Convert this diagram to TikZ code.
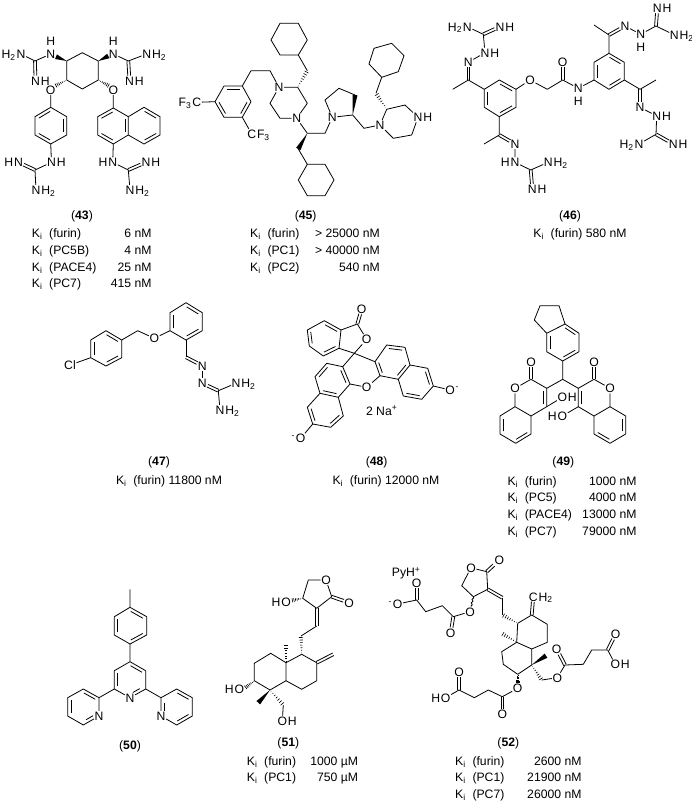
\documentclass[tikz,border=0pt]{standalone}
\usepackage{fontspec}
\setmainfont{Liberation Sans}
\usetikzlibrary{calc,decorations.pathmorphing}
\newcommand{\chemfont}{\fontsize{12.2}{14}\selectfont}
\tikzset{
  bond/.style = {line width=.8pt, line join=round},
  thin bond/.style = {line width=.6pt},
  atom/.style = {inner sep=.5pt, font=\chemfont, text height=8.7pt, text depth=0pt},
  lab/.style = {inner sep=0pt, font=\chemfont, text height=8.7pt, text depth=0pt},
  rlab/.style = {label={[lab]right:#1}},
  llab/.style = {label={[lab]left:#1}},
  ulab/.style = {label={[lab,label distance=3pt]above:#1}},
  dlab/.style = {label={[lab,label distance=3pt]below:#1}},
  captxt/.style = {inner sep=0pt, font=\chemfont, text height=8.7pt, text depth=0pt},
  kil/.style = {captxt, anchor=west},
  kir/.style = {captxt, anchor=east}
}
\newcommand{\pts}[1]{\foreach \n/\x/\y in {#1} {\coordinate (\n) at (\x,\y);}}
\newcommand{\dbb}[2]{\path (#1) -- (#2) coordinate[pos=0] (dbs) coordinate[pos=1] (dbe);
  \draw[bond] ($(dbs)!1.4pt!90:(dbe)$) -- ($(dbe)!1.4pt!-90:(dbs)$);
  \draw[bond] ($(dbs)!1.4pt!-90:(dbe)$) -- ($(dbe)!1.4pt!90:(dbs)$);}
\newcommand{\inn}[3][.14]{\draw[bond] ($(#2)!#1!(#3)!3.2pt!-90:(#3)$) -- ($(#3)!#1!(#2)!3.2pt!90:(#2)$);}
\newcommand{\wdg}[2]{\fill (#1) -- ($(#2)!2.5pt!90:(#1)$) -- ($(#2)!2.5pt!-90:(#1)$) -- cycle;}
\newcommand{\hsh}[2]{\foreach \t in {.08,.22,.36,.5,.64,.78,.92} {
    \pgfmathsetmacro\w{\t*2.3}
    \draw[thin bond] ($(#1)!\t!(#2)!\w pt!90:(#2)$) -- ($(#1)!\t!(#2)!\w pt!-90:(#2)$);}}
\newcommand{\subs}[1]{\textsubscript{#1}}
\newcommand{\sups}[1]{\textsuperscript{#1}}
\newcommand{\Ki}{K\subs{i}\ \ }
\begin{document}
\begin{tikzpicture}[x=1pt,y=-1pt]
  \useasboundingbox (0,0) rectangle (692,805);
  % compound 43
  \pts{a1/66.7/61,a2/82.3/52.7,a3/98.3/61,a4/98.3/80,a5/82.3/89,a6/66.7/80,a7/35/61,a8/128.3/61,%
    a9/50.7/107.3,a10/66.7/116.7,a11/66.7/135,a12/50.7/144,a13/35/135,a14/35/116.7,a15/35/170,%
    a16/113.3/108,a17/128.3/116.7,a18/128.3/135,a19/113.3/144,a20/97.7/135,a21/97.7/116.7,%
    a22/144/107.3,a23/160/116.7,a24/160/135,a25/144/144,a26/128.3/170,%
    a27/56/56.7,a28/108.3/56,a29/55/86,a30/109.3/86}
  \node[atom,ulab=H] (aN1) at (50.7,54) {N};
  \node[atom,ulab=H] (aN2) at (113.3,54) {N};
  \node[atom,llab=H\subs{2}] (aN3) at (21,54) {N};
  \node[atom,rlab=H] (aN4) at (35.5,80.7) {N};
  \node[atom,rlab=H\subs{2}] (aN5) at (146.7,54) {N};
  \node[atom,rlab=H] (aN6) at (129.5,80.7) {N};
  \node[atom] (aO1) at (50.7,90) {O};
  \node[atom] (aO2) at (113.3,90) {O};
  \node[atom,rlab=H] (aN7) at (51.5,162.3) {N};
  \node[atom,llab=H] (aN8) at (18.5,162.3) {N};
  \node[atom,rlab=H\subs{2}] (aN9) at (36,190) {N};
  \node[atom,llab=H] (aN10) at (112.7,162.3) {N};
  \node[atom,rlab=H] (aN11) at (146,162.3) {N};
  \node[atom,rlab=H\subs{2}] (aN12) at (130,190) {N};
  \dbb{a7}{aN4}
  \dbb{a8}{aN6}
  \dbb{a15}{aN8}
  \dbb{a26}{aN11}
  \draw[bond] (a1) -- (a2) -- (a3) -- (a4) -- (a5) -- (a6) -- cycle;
  \draw[bond] (aN3) -- (a7) -- (aN1);
  \draw[bond] (aN2) -- (a8) -- (aN5);
  \draw[bond] (aO1) -- (a9) -- (a10) -- (a11) -- (a12) -- (a13) -- (a14) -- (a9);
  \draw[bond] (a12) -- (aN7) -- (a15) -- (aN9);
  \draw[bond] (aO2) -- (a16) -- (a17) -- (a18) -- (a19) -- (a20) -- (a21) -- (a16);
  \draw[bond] (a17) -- (a22) -- (a23) -- (a24) -- (a25) -- (a18);
  \draw[bond] (a19) -- (aN10) -- (a26) -- (aN12);
  \wdg{a1}{a27} \wdg{a3}{a28} \hsh{a6}{a29} \hsh{a4}{a30}
  \inn{a14}{a9} \inn{a10}{a11} \inn{a12}{a13}
  \inn{a21}{a16} \inn{a17}{a18} \inn{a19}{a20} \inn{a22}{a23} \inn{a24}{a25}
  \node[captxt] (a43) at (82,215) {(\textbf{43})};
  \foreach \i/\y/\e/\v in {1/233.3/furin/6 nM,2/250/PC5B/4 nM,3/266.7/PACE4/25 nM,4/283.3/PC7/415 nM}{
    \node[kil] (aK\i) at (31.7,\y) {\Ki(\e)};
    \node[kir] (aV\i) at (151.7,\y) {\v};
  }
  % compound 45
  \pts{b1/280/23.3,b2/298.3/23.3,b3/307.3/40,b4/298.3/55,b5/280/55,b6/271/40,b7/307.3/70.7,%
    b8/297.7/87.3,b9/307.3/103.3,b10/280/118.3,b11/270/103.3,b12/270/70.7,b13/251/70.7,%
    b14/242.3/86,b15/251/101.7,b16/242.3/117.3,b17/224/117.3,b18/215/101.7,b19/224/86,%
    b20/307.3/133.3,b21/325/133.3,b22/298.3/149,b23/307.3/164.3,b24/325/164.3,b25/334/180,%
    b26/325/195.7,b27/307.3/195.7,b28/298.3/180,b29/325/100,b30/339/88.3,b31/355/95,b32/352.7/115,%
    b33/364/128.3,b34/386.7/109.3,b35/405/105,b36/411.7/135,b37/393.3/138.3,b38/376/93.3,%
    b39/381.7/77.3,b40/398.3/71.7,b41/404/55.7,b42/391.7/43.3,b43/374/48.3,b44/369/64}
  \node[atom] (bN1) at (279,87.3) {N};
  \node[atom] (bN2) at (296.7,118.3) {N};
  \node[atom] (bN3) at (332.3,117.3) {N};
  \node[atom] (bN4) at (380,125) {N};
  \node[atom,rlab=H] (bN5) at (418,117.3) {N};
  \node[atom,llab=F\subs{3}] (bC1) at (196.7,102.3) {C};
  \node[atom,rlab=F\subs{3}] (bC2) at (251.7,134) {C};
  \draw[bond] (b1) -- (b2) -- (b3) -- (b4) -- (b5) -- (b6) -- cycle;
  \draw[bond] (b4) -- (b7);
  \draw[bond] (bN1) -- (b8) -- (b9) -- (bN2) -- (b10) -- (b11) -- (bN1);
  \draw[bond] (bN1) -- (b12) -- (b13) -- (b14) -- (b15) -- (b16) -- (b17) -- (b18) -- (b19) -- (b14);
  \draw[bond] (b18) -- (bC1);
  \draw[bond] (b16) -- (bC2);
  \draw[bond] (bN2) -- (b20) -- (b21) -- (bN3);
  \draw[bond] (b22) -- (b23) -- (b24) -- (b25) -- (b26) -- (b27) -- (b28) -- (b23);
  \draw[bond] (bN3) -- (b29) -- (b30) -- (b31);
  \draw[bond] (bN3) -- (b32) -- (b33) -- (bN4) -- (b34) -- (b35) -- (bN5) -- (b36) -- (b37) -- (bN4);
  \draw[bond] (b38) -- (b39) -- (b40) -- (b41) -- (b42) -- (b43) -- (b44) -- (b39);
  \hsh{b8}{b7} \wdg{b20}{b22} \wdg{b32}{b31} \hsh{b34}{b38}
  \inn{b19}{b14} \inn{b15}{b16} \inn{b17}{b18}
  \node[captxt] (b45) at (305.7,215) {(\textbf{45})};
  \foreach \i/\y/\e/\v in {1/233.3/furin/> 25000 nM,2/250/PC1/> 40000 nM,3/267/PC2/540 nM}{
    \node[kil] (bK\i) at (250,\y) {\Ki(\e)};
    \node[kir] (bV\i) at (380,\y) {\v};
  }
  % compound 46
  \pts{c1/483.3/34.3,c2/468.3/80,c3/452.7/89.3,c4/484.3/89.3,c5/499.3/80,c6/516/89.3,c7/516/107.3,%
    c8/499.3/116.7,c9/484.3/107.3,c10/547.3/89.3,c11/562.7/80,c12/594/80,c13/594/62.3,c14/609/53.3,%
    c15/624.3/62.3,c16/624.3/80,c17/609/89.3,c18/609/35,c19/594/25,c20/656/26,c21/640/89.3,%
    c22/656/80,c23/656/134.3,c24/499.3/135,c25/484/144,c26/530.7/170}
  \node[atom,llab=H\subs{2}] (cN1) at (467.3,26.7) {N};
  \node[atom,rlab=H] (cN2) at (500,26.7) {N};
  \node[atom,rlab=H] (cN3) at (485,52.7) {N};
  \node[atom] (cN4) at (468.3,62.3) {N};
  \node[atom] (cO1) at (530,80) {O};
  \node[atom] (cO2) at (562.7,62.3) {O};
  \node[atom,dlab=H] (cN5) at (578.3,88.3) {N};
  \node[atom] (cN6) at (625,26) {N};
  \node[atom,dlab=H] (cN7) at (640.7,34.3) {N};
  \node[atom,rlab=H] (cN8) at (657.3,8.3) {N};
  \node[atom,rlab=H\subs{2}] (cN9) at (674.3,35) {N};
  \node[atom] (cN10) at (640,107.3) {N};
  \node[atom,rlab=H] (cN11) at (656.7,116) {N};
  \node[atom,llab=H\subs{2}] (cN12) at (639,144) {N};
  \node[atom,rlab=H] (cN13) at (673.3,144) {N};
  \node[atom] (cN14) at (515,144) {N};
  \node[atom,llab=H] (cN15) at (515,162.3) {N};
  \node[atom,rlab=H\subs{2}] (cN16) at (548.3,162.3) {N};
  \node[atom,rlab=H] (cN17) at (532.3,189) {N};
  \dbb{c1}{cN2}
  \dbb{c2}{cN4}
  \dbb{c11}{cO2}
  \dbb{c18}{cN6}
  \dbb{c20}{cN8}
  \dbb{c21}{cN10}
  \dbb{c23}{cN13}
  \dbb{c24}{cN14}
  \dbb{c26}{cN17}
  \draw[bond] (cN1) -- (c1) -- (cN3) -- (cN4);
  \draw[bond] (c3) -- (c2) -- (c4) -- (c5) -- (c6) -- (c7) -- (c8) -- (c9) -- (c4);
  \draw[bond] (c6) -- (cO1) -- (c10) -- (c11) -- (cN5) -- (c12) -- (c13) -- (c14) -- (c15) -- (c16) -- (c17) -- (c12);
  \draw[bond] (c14) -- (c18) -- (c19);
  \draw[bond] (cN6) -- (cN7) -- (c20) -- (cN9);
  \draw[bond] (c16) -- (c21) -- (c22);
  \draw[bond] (cN10) -- (cN11) -- (c23) -- (cN12);
  \draw[bond] (c8) -- (c24) -- (c25);
  \draw[bond] (cN14) -- (cN15) -- (c26) -- (cN16);
  \inn{c9}{c4} \inn{c5}{c6} \inn{c7}{c8} \inn{c12}{c13} \inn{c14}{c15} \inn{c16}{c17}
  \node[captxt] (c46) at (570,215) {(\textbf{46})};
  \node[captxt] (cK1) at (580,233.3) {\Ki(furin) 580 nM};
  % compound 47
  \pts{d1/90.7/340,d2/106/330.7,d3/121.7/340,d4/121.7/357.7,d5/106/366,d6/90.7/357.7,d7/137.7/330.7,%
    d8/170/330.7,d9/170/312.7,d10/186/302.7,d11/202.3/312.7,d12/202.3/330.7,d13/186/340,d14/186/357.3,%
    d15/218.3/390.7}
  \node[atom] (dCl) at (70,365) {Cl};
  \node[atom] (dO) at (154.3,338.3) {O};
  \node[atom] (dN1) at (202.3,365.7) {N};
  \node[atom] (dN2) at (202.3,383.3) {N};
  \node[atom,rlab=H\subs{2}] (dN3) at (236,383.3) {N};
  \node[atom,rlab=H\subs{2}] (dN4) at (220,410) {N};
  \dbb{d14}{dN1}
  \dbb{dN2}{d15}
  \draw[bond] (dCl) -- (d6) -- (d1) -- (d2) -- (d3) -- (d4) -- (d5) -- (d6);
  \draw[bond] (d3) -- (d7) -- (dO) -- (d8) -- (d9) -- (d10) -- (d11) -- (d12) -- (d13) -- (d8);
  \draw[bond] (d13) -- (d14);
  \draw[bond] (dN1) -- (dN2);
  \draw[bond] (dN3) -- (d15) -- (dN4);
  \inn{d6}{d1} \inn{d2}{d3} \inn{d4}{d5} \inn{d8}{d9} \inn{d10}{d11} \inn{d12}{d13}
  \node[captxt] (d47) at (159,461) {(\textbf{47})};
  \node[captxt] (dK1) at (169,480) {\Ki(furin) 11800 nM};
  % compound 48
  \pts{e1/357.3/324,e2/354.3/353.3,e3/324.3/320.7,e4/341/330,e5/339/348.3,e6/323.3/356,e7/309.3/346,e8/307.3/330,%
    e9/342.7/366.7,e10/326.7/363.3,e11/315/376.7,e12/320/393.3,e13/338.3/397.3,e14/350/384,%
    e15/343.3/416,e16/330.7/427.3,e17/312.7/424,e18/307.3/407.3,%
    e19/375/361.7,e20/386.7/345,e21/405/347.3,e22/410/365,e23/398.3/379.3,e24/380/375.7,%
    e25/427.7/368.3,e26/433.3/386,e27/421.7/399.3,e28/403.3/396}
  \node[atom] (eO1) at (361.7,309) {O};
  \node[atom] (eO2) at (366.7,339.3) {O};
  \node[atom] (eO3) at (366.7,387.3) {O};
  \node[atom,llab=\sups{-}] (eO4) at (300.7,438.3) {O};
  \node[atom,rlab=\sups{-}] (eO5) at (450,390) {O};
  \dbb{e1}{eO1}
  \draw[bond] (e4) -- (e1) -- (eO2) -- (e2) -- (e5);
  \draw[bond] (e3) -- (e4) -- (e5) -- (e6) -- (e7) -- (e8) -- cycle;
  \draw[bond] (e2) -- (e9) -- (e10) -- (e11) -- (e12) -- (e13) -- (e14) -- (e9);
  \draw[bond] (e13) -- (e15) -- (e16) -- (e17) -- (e18) -- (e12);
  \draw[bond] (e17) -- (eO4);
  \draw[bond] (e14) -- (eO3) -- (e24);
  \draw[bond] (e2) -- (e19) -- (e20) -- (e21) -- (e22) -- (e23) -- (e24) -- (e19);
  \draw[bond] (e22) -- (e25) -- (e26) -- (e27) -- (e28) -- (e23);
  \draw[bond] (e26) -- (eO5);
  \inn{e3}{e4} \inn{e5}{e6} \inn{e7}{e8}
  \inn{e11}{e10} \inn{e9}{e14} \inn{e13}{e12}
  \inn{e15}{e16} \inn{e17}{e18}
  \inn{e20}{e21} \inn{e22}{e23} \inn{e24}{e19}
  \inn{e25}{e26} \inn{e27}{e28}
  \node[captxt] (eNa) at (381.7,411) {2 Na\sups{+}};
  \node[captxt] (e48) at (376.7,461) {(\textbf{48})};
  \node[captxt] (eK1) at (386,480) {\Ki(furin) 12000 nM};
  % compound 49
  \pts{f1/540/305.7,f2/559/305.7,f3/565/324,f4/546.7/333.3,f5/534.3/320,f6/579/333.3,f7/579/351.7,%
    f8/562.7/361,f9/546.7/351.7,f10/562.7/379.3,f11/546.7/388.3,f12/578.3/388.3,f13/531/379.3,%
    f14/515/406.7,f15/531/416,f16/546.7/406.7,f17/500/416,f18/500/434,f19/515.7/443.3,f20/531/434,%
    f21/594/379.3,f22/610/406.7,f23/594/416,f24/578.3/406.7,f25/625.7/416,f26/625.7/434,f27/610/443.3,f28/594/434}
  \node[atom] (fO1) at (531,361.7) {O};
  \node[atom] (fO2) at (515,388.3) {O};
  \node[atom,rlab=H] (fO3) at (562.3,397.3) {O};
  \node[atom] (fO4) at (594,361.7) {O};
  \node[atom] (fO5) at (610,388.3) {O};
  \node[atom,llab=H] (fO6) at (562.3,416) {O};
  \dbb{f13}{fO1}
  \dbb{f21}{fO4}
  \draw[bond] (f1) -- (f2) -- (f3) -- (f4) -- (f5) -- cycle;
  \draw[bond] (f3) -- (f6) -- (f7) -- (f8) -- (f9) -- (f4);
  \draw[bond] (f8) -- (f10) -- (f11) -- (f13) -- (fO2) -- (f14) -- (f15) -- (f16) -- (f11);
  \draw[bond] (f16) -- (fO3);
  \draw[bond] (f14) -- (f17) -- (f18) -- (f19) -- (f20) -- (f15);
  \draw[bond] (f10) -- (f12) -- (f21) -- (fO5) -- (f22) -- (f23) -- (f24) -- (f12);
  \draw[bond] (f24) -- (fO6);
  \draw[bond] (f22) -- (f25) -- (f26) -- (f27) -- (f28) -- (f23);
  \inn{f3}{f6} \inn{f7}{f8} \inn{f9}{f4}
  \inn{f11}{f16} \inn{f24}{f12} \inn{f18}{f17} \inn{f20}{f19}
  \inn{f25}{f26} \inn{f27}{f28}
  \node[captxt] (f49) at (563.3,461) {(\textbf{49})};
  \foreach \i/\y/\e/\v in {1/480.7/furin/1000 nM,2/497.3/PC5/4000 nM,3/514/PACE4/13000 nM,4/530.7/PC7/79000 nM}{
    \node[kil] (fK\i) at (507.3,\y) {\Ki(\e)};
    \node[kir] (fV\i) at (636.7,\y) {\v};
  }
  % compound 50
  \pts{g1/130/589.3,g2/130/607.3,g3/146.7/616.7,g4/146.7/635,g5/130/644,g6/114.3/635,g7/114.3/616.7,%
    g8/130/661.7,g9/145.7/670.7,g10/145.7/689,g11/114.3/689,g12/114.3/670.7,%
    g13/99/697.7,g14/83.3/725,g15/67.7/716,g16/67.7/697.7,g17/83.3/689,%
    g18/161/697.7,g19/176.7/689,g20/192.3/697.7,g21/192.3/716,g22/176.7/725}
  \node[atom] (gN1) at (130,697.7) {N};
  \node[atom] (gN2) at (99,716) {N};
  \node[atom] (gN3) at (161,716) {N};
  \draw[bond] (g1) -- (g2) -- (g3) -- (g4) -- (g5) -- (g6) -- (g7) -- (g2);
  \draw[bond] (g5) -- (g8) -- (g9) -- (g10) -- (gN1) -- (g11) -- (g12) -- (g8);
  \draw[bond] (g11) -- (g13) -- (gN2) -- (g14) -- (g15) -- (g16) -- (g17) -- (g13);
  \draw[bond] (g10) -- (g18) -- (g19) -- (g20) -- (g21) -- (g22) -- (gN3) -- (g18);
  \inn{g2}{g3} \inn{g4}{g5} \inn{g6}{g7}
  \inn{g8}{g9} \inn[.28]{g10}{gN1} \inn{g11}{g12}
  \inn{g17}{g13} \inn[.28]{gN2}{g14} \inn{g15}{g16}
  \inn[.28]{gN3}{g18} \inn{g19}{g20} \inn{g21}{g22}
  \node[captxt] (g50) at (130,745) {(\textbf{50})};
  % compound 51
  \pts{h1/308.3/580,h2/302.7/598.3,h3/316.7/608.3,h4/331.7/596.7,h5/316.7/626,h6/301/636,%
    h7/301.7/654.3,h8/316.7/662.7,h9/316.7/680.7,h10/301.7/689.3,h11/286/680.7,h12/286/662.7,%
    h13/270.7/653.3,h14/254.3/663.3,h15/254.3/680.7,h16/270/690,h17/333.3/654.3,h18/286/644,%
    h19/258.3/702.7,h20/283.3/705,h21/291.5/600.5,h22/245/688}
  \node[atom] (hO1) at (326,580) {O};
  \node[atom] (hO2) at (349,602.7) {O};
  \node[atom,llab=H] (hO3) at (286,601.7) {O};
  \node[atom,llab=H] (hO4) at (239.3,689.3) {O};
  \node[atom,rlab=H] (hO5) at (282.3,720.7) {O};
  \dbb{h4}{hO2}
  \dbb{h3}{h5}
  \dbb{h8}{h17}
  \draw[bond] (h4) -- (hO1) -- (h1) -- (h2) -- (h3) -- (h4);
  \draw[bond] (h5) -- (h6);
  \draw[bond] (h7) -- (h8) -- (h9) -- (h10) -- (h11) -- (h12) -- (h7);
  \draw[bond] (h12) -- (h13) -- (h14) -- (h15) -- (h16) -- (h11);
  \draw[bond] (h20) -- (hO5);
  \hsh{h2}{h21} \hsh{h7}{h6} \hsh{h12}{h18} \hsh{h15}{h22} \hsh{h16}{h20} \wdg{h16}{h19}
  \node[captxt] (h51) at (288.3,741.7) {(\textbf{51})};
  \foreach \i/\y/\e/\v in {1/760.7/furin/1000 µM,2/777.3/PC1/750 µM}{
    \node[kil] (hK\i) at (246.7,\y) {\Ki(\e)};
    \node[kir] (hV\i) at (358.3,\y) {\v};
  }
  % compound 52
  \pts{i1/486.7/571.7,i2/461.7/585.7,i3/473.3/596.7,i4/487.7/589.3,i5/502.3/597.7,i6/502.3/615,%
    i7/517.7/623.3,i8/531.7/615,i9/547.3/624.3,i10/547.3/642.3,i11/531.7/649,i12/516.7/642.3,%
    i13/501.7/651.7,i14/503.3/664.3,i15/517.7/674.3,i16/531.7/665,i17/501.7/633.3,i18/546/655.7,i19/541.7/680,%
    i20/565/665,i21/583.3/664.3,i22/591.7/650,i23/607.7/650,i24/517.7/683,%
    i25/502.3/696.7,i26/488.3/690,i27/474.3/697.7,i28/459/690,%
    i29/453.3/616.7,i30/442.3/605.7,i31/425.7/611.7,i32/416.7/600}
  \node[atom] (iO1) at (499.3,560) {O};
  \node[atom] (iO2) at (471,567.7) {O};
  \node[atom] (iO3) at (470,611.7) {O};
  \node[atom] (iO4) at (450.7,632.7) {O};
  \node[atom] (iO5) at (416.7,583.3) {O};
  \node[atom,llab=\sups{-}] (iO6) at (397.7,604) {O};
  \node[atom,rlab=H\subs{2}] (iC) at (533.3,596.7) {C};
  \node[atom] (iO7) at (557.3,677.7) {O};
  \node[atom] (iO8) at (556.7,649) {O};
  \node[atom] (iO9) at (615.7,634) {O};
  \node[atom,rlab=H] (iO10) at (615.3,664.5) {O};
  \node[atom] (iO11) at (517.7,688.3) {O};
  \node[atom] (iO12) at (502.3,714.3) {O};
  \node[atom] (iO13) at (459,672.3) {O};
  \node[atom,llab=H] (iO14) at (445.7,697.7) {O};
  \dbb{i1}{iO1}
  \dbb{i4}{i5}
  \dbb{i8}{iC}
  \dbb{i20}{iO8}
  \dbb{i23}{iO9}
  \dbb{i25}{iO12}
  \dbb{i28}{iO13}
  \dbb{i29}{iO4}
  \dbb{i32}{iO5}
  \draw[bond] (i1) -- (iO2) -- (i2) -- (i3) -- (i4) -- (i1);
  \draw[bond] (i5) -- (i6);
  \draw[bond] (i7) -- (i8) -- (i9) -- (i10) -- (i11) -- (i12) -- (i7);
  \draw[bond] (i12) -- (i13) -- (i14) -- (i15) -- (i16) -- (i11);
  \draw[bond] (i19) -- (iO7) -- (i20) -- (i21) -- (i22) -- (i23) -- (iO10);
  \draw[bond] (iO11) -- (i25) -- (i26) -- (i27) -- (i28) -- (iO14);
  \draw[bond,decorate,decoration={snake,amplitude=.8pt,segment length=3.5pt}] (i3) -- (iO3);
  \draw[bond] (iO3) -- (i29) -- (i30) -- (i31) -- (i32) -- (iO6);
  \hsh{i7}{i6} \hsh{i12}{i17} \wdg{i16}{i18} \hsh{i16}{i19} \hsh{i15}{i24}
  \node[captxt,anchor=west] (iPy) at (391.7,572.3) {PyH\sups{+}};
  \node[captxt] (i52) at (508.3,741.7) {(\textbf{52})};
  \foreach \i/\y/\e/\v in {1/760.7/furin/2600 nM,2/777.3/PC1/21900 nM,3/794/PC7/26000 nM}{
    \node[kil] (iK\i) at (455,\y) {\Ki(\e)};
    \node[kir] (iV\i) at (581.7,\y) {\v};
  }
\end{tikzpicture}
\end{document}
